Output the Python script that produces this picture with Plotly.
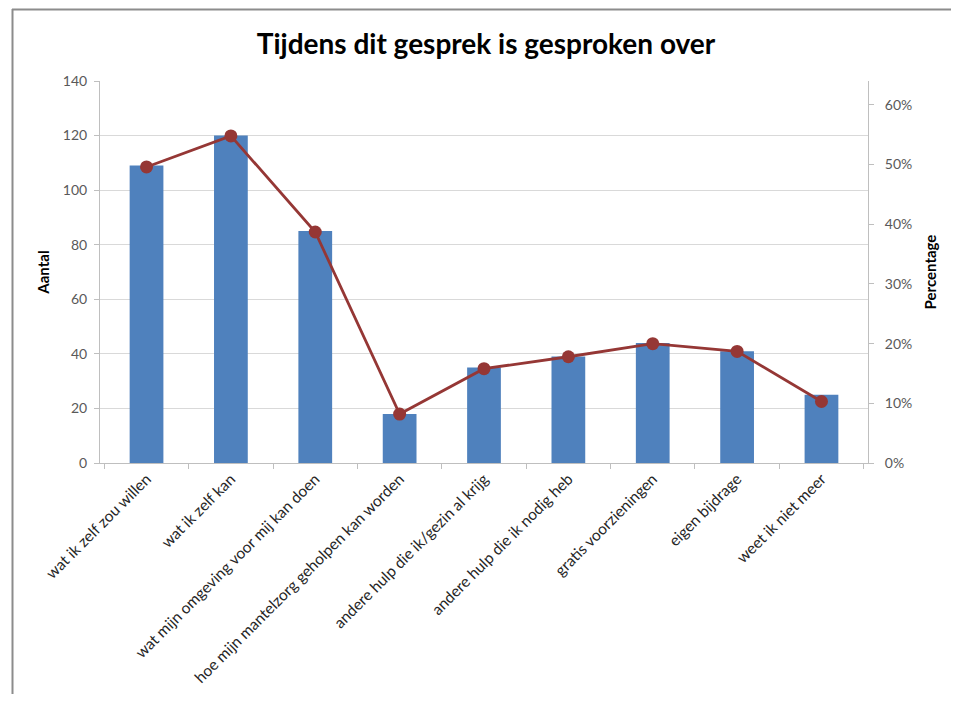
import plotly.graph_objects as go

categories = [
    "wat ik zelf zou willen",
    "wat ik zelf kan",
    "wat mijn omgeving voor mij kan doen",
    "hoe mijn mantelzorg geholpen kan worden",
    "andere hulp die ik/gezin al krijg",
    "andere hulp die ik nodig heb",
    "gratis voorzieningen",
    "eigen bijdrage",
    "weet ik niet meer",
]
aantal = [109, 120, 85, 18, 35, 39, 44, 41, 25]
percentage = [0.496, 0.548, 0.387, 0.082, 0.158, 0.178, 0.200, 0.187, 0.103]

left_ticks = [0, 20, 40, 60, 80, 100, 120, 140]
right_ticks = [0, 0.1, 0.2, 0.3, 0.4, 0.5, 0.6]
right_ticklabels = ["0%", "10%", "20%", "30%", "40%", "50%", "60%"]

FONT = "Lato, Carlito, 'Open Sans', sans-serif"

fig = go.Figure()
fig.add_trace(go.Bar(
    x=categories, y=aantal, name="Aantal",
    marker=dict(color="#4f81bd", line=dict(width=0)),
    yaxis="y",
))
fig.add_trace(go.Scatter(
    x=categories, y=percentage, name="Percentage",
    mode="lines+markers",
    line=dict(color="#953735", width=2.8),
    marker=dict(color="#953735", size=13),
    yaxis="y2",
))

# page offset (browser body margin of 8px on each side)
OFF = 8
W, H = 959 - 2 * OFF, 702 - 2 * OFF
# reference plot area (in reference pixels): x 100..868, y 81..463
L = 100 - OFF
T = 81 - OFF
R = (W + OFF) - 868
B = (H + OFF) - 463
pw = W - L - R
ph = H - T - B

def px_x(px):
    return (px - OFF - L) / pw

def px_y(py):
    return (H - B - (py - OFF)) / ph

fig.update_layout(
    width=W, height=H,
    margin=dict(l=L, r=R, t=T, b=B, autoexpand=False),
    paper_bgcolor="white", plot_bgcolor="white",
    showlegend=False,
    bargap=0.6,
    font=dict(family=FONT, color="#404040", size=14),
    title=dict(
        text="<b>Tijdens dit gesprek is gesproken over</b>",
        x=px_x(486), xanchor="center", xref="paper",
        y=1 - (44 - OFF) / H, yref="container", yanchor="middle",
        font=dict(family=FONT, size=28, color="black"),
    ),
    xaxis=dict(
        type="category",
        automargin=False,
        tickangle=-45,
        ticks="outside", tickson="boundaries", ticklen=5,
        tickcolor="#bfbfbf",
        showline=True, linecolor="#bfbfbf", linewidth=1,
        showgrid=False,
        tickfont=dict(family=FONT, size=15.5, color="#262626"),
    ),
    yaxis=dict(
        range=[0, 140],
        automargin=False,
        tickvals=left_ticks,
        ticks="outside", ticklen=5, tickcolor="#bfbfbf",
        ticklabelstandoff=4,
        showline=True, linecolor="#bfbfbf", linewidth=1,
        showgrid=True, gridcolor="#d9d9d9", gridwidth=1,
        zeroline=False,
        tickfont=dict(family=FONT, size=14, color="#595959"),
        title=dict(text="<b>Aantal</b>", font=dict(family=FONT, size=15, color="black"), standoff=9),
    ),
    yaxis2=dict(
        overlaying="y", side="right",
        automargin=False,
        range=[0, 0.64],
        tickvals=right_ticks, ticktext=right_ticklabels,
        ticks="outside", ticklen=5, tickcolor="#bfbfbf",
        ticklabelstandoff=8,
        showline=True, linecolor="#bfbfbf", linewidth=1,
        showgrid=False, zeroline=False,
        tickfont=dict(family=FONT, size=14, color="#595959"),
        title=dict(text="<b>Percentage</b>", font=dict(family=FONT, size=15, color="black"), standoff=14),
    ),
)

# chart frame (top and left edges visible)
fig.add_shape(type="line", xref="paper", yref="paper",
              x0=px_x(12), x1=px_x(959), y0=px_y(9.5), y1=px_y(9.5),
              line=dict(color="#8c8c8c", width=2))
fig.add_shape(type="line", xref="paper", yref="paper",
              x0=px_x(12.5), x1=px_x(12.5), y0=px_y(9), y1=px_y(702),
              line=dict(color="#8c8c8c", width=2))

fig.write_html("out.html", config={"displayModeBar": False})
